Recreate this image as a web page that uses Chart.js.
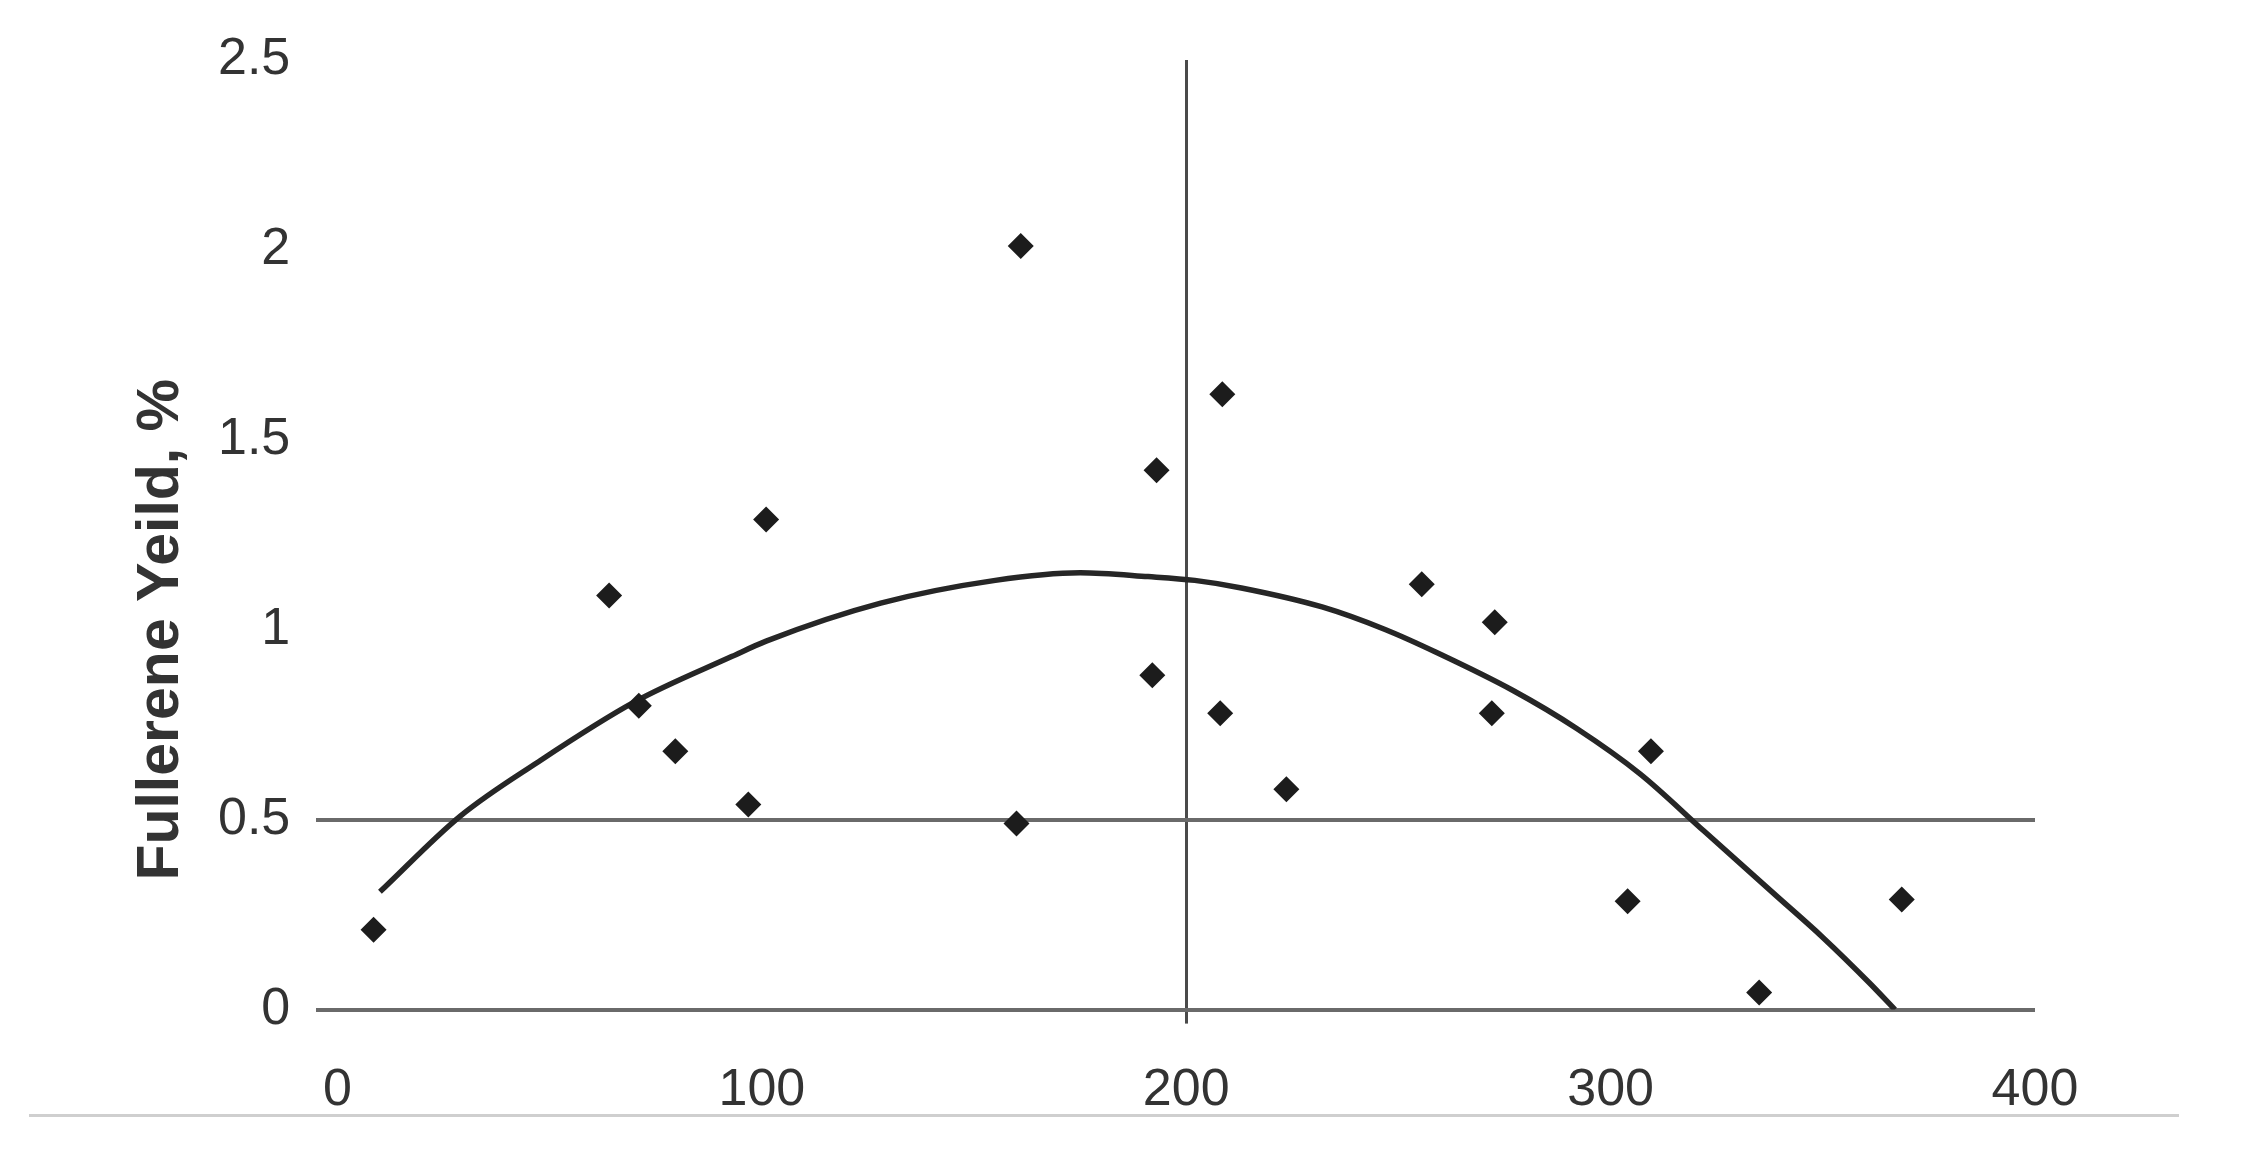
<!DOCTYPE html>
<html>
<head>
<meta charset="utf-8">
<script src="https://cdn.jsdelivr.net/npm/chart.js@4"></script>
<style>
  html, body { margin: 0; padding: 0; background: #fff; }
  #wrap { position: relative; width: 2247px; height: 1158px; }
  #scanline { position: absolute; left: 29px; top: 1114px; width: 2150px; height: 3px; background: #cfcfcf; }
</style>
</head>
<body>
<div id="wrap">
  <canvas id="fullerene-chart"></canvas>
  <div id="scanline"></div>
</div>
<script>
// Measured points (x, yield %)
const pointX = [8.5, 64, 71, 79.6, 96.8, 101, 161, 160, 193, 192, 208.5, 208, 223.6, 255.5, 272.7, 272, 309.5, 304, 335, 368.6];
const pointY = [0.21, 1.09, 0.8, 0.68, 0.54, 1.29, 2.01, 0.49, 1.42, 0.88, 1.62, 0.78, 0.58, 1.12, 1.02, 0.78, 0.68, 0.285, 0.045, 0.29];

// Fitted curve
const curveX = [10, 29, 47, 70, 93, 101, 128, 155, 175, 191, 202, 213, 232, 247, 259, 277, 292, 307, 322, 339, 350, 361, 367];
const curveY = [0.31, 0.51, 0.65, 0.81, 0.93, 0.97, 1.07, 1.13, 1.15, 1.14, 1.13, 1.11, 1.06, 1.0, 0.94, 0.84, 0.74, 0.62, 0.47, 0.3, 0.19, 0.07, 0];

const xTicks = [0, 100, 200, 300, 400];
const yTicks = [0, 0.5, 1, 1.5, 2, 2.5];
const yTitle = 'Fullerene Yeild, %';

const fontFamily = "'Liberation Sans', Arial, sans-serif";

const ctx = document.getElementById('fullerene-chart');
ctx.width = 2247;
ctx.height = 1158;

// eslint-disable-next-line no-unused-vars
const chart = new Chart(ctx, {
  type: 'scatter',
  data: {
    datasets: [
      {
        label: 'Yield',
        data: pointX.map((x, i) => ({ x, y: pointY[i] })),
        pointStyle: 'rectRot',
        pointRadius: 13,
        backgroundColor: '#1c1c1c',
        borderWidth: 0,
        order: 1,
      },
      {
        label: 'Fit',
        data: curveX.map((x, i) => ({ x, y: curveY[i] })),
        showLine: true,
        borderColor: '#262626',
        borderWidth: 5.5,
        pointRadius: 0,
        cubicInterpolationMode: 'monotone',
        fill: false,
        order: 2,
      },
    ],
  },
  options: {
    responsive: false,
    animation: false,
    layout: {
      padding: {
        top: 60, bottom: 0, left: 192, right: 212,
      },
    },
    plugins: {
      legend: { display: false },
      tooltip: { enabled: false },
    },
    scales: {
      x: {
        type: 'linear',
        min: -5,
        max: 400,
        afterBuildTicks: (scale) => {
          scale.ticks = xTicks.map((v) => ({ value: v }));
        },
        border: { display: false },
        grid: {
          drawTicks: true,
          tickLength: 14,
          lineWidth: 3,
          color: (c) => (c.tick && c.tick.value === 200 ? '#4a4a4a' : 'transparent'),
        },
        ticks: {
          padding: 36,
          color: '#333',
          font: { family: fontFamily, size: 52 },
          maxRotation: 0,
        },
      },
      y: {
        min: 0,
        max: 2.5,
        afterBuildTicks: (scale) => {
          scale.ticks = yTicks.map((v) => ({ value: v }));
        },
        border: { display: false },
        grid: {
          drawTicks: false,
          lineWidth: 4,
          color: (c) => (c.tick && (c.tick.value === 0 || c.tick.value === 0.5) ? '#6a6a6a' : 'transparent'),
        },
        ticks: {
          padding: 26,
          color: '#333',
          font: { family: fontFamily, size: 52 },
          callback: (v) => String(v),
        },
      },
    },
  },
  plugins: [{
    id: 'yTitle',
    afterDraw(c) {
      const g = c.ctx;
      const yScale = c.scales.y;
      g.save();
      g.translate(c.chartArea.left - 155, yScale.getPixelForValue(1));
      g.rotate(-Math.PI / 2);
      g.fillStyle = '#333';
      g.font = `bold 59px ${fontFamily}`;
      g.textAlign = 'center';
      g.textBaseline = 'middle';
      g.fillText(yTitle, 0, 0);
      g.restore();
    },
  }],
});
</script>
</body>
</html>
